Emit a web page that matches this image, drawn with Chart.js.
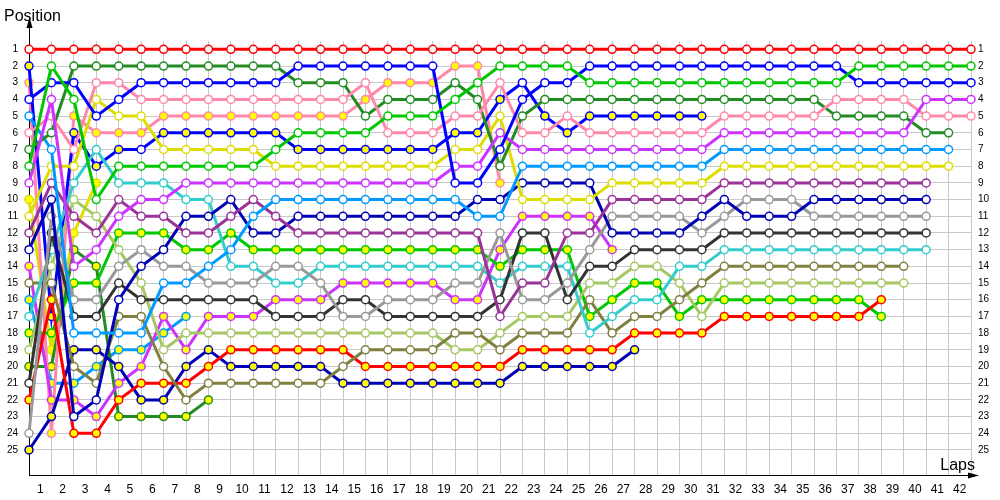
<!DOCTYPE html>
<html>
<head>
<meta charset="utf-8">
<title>Lap chart</title>
<script src="https://cdn.jsdelivr.net/npm/chart.js@4/dist/chart.umd.min.js"></script>
<style>
  html, body { margin: 0; padding: 0; background: #fff; }
</style>
</head>
<body>
<canvas id="lapChart" width="1000" height="500"></canvas>
<script>
// Etiquetas de vueltas (eje X) y posiciones (eje Y)
const lapLabels = ['1','2','3','4','5','6','7','8','9','10','11','12','13','14','15','16','17','18','19','20',
  '21','22','23','24','25','26','27','28','29','30','31','32','33','34','35','36','37','38','39','40','41','42'];
const positionTicks = [1,2,3,4,5,6,7,8,9,10,11,12,13,14,15,16,17,18,19,20,21,22,23,24,25];

// Posicion de cada piloto por vuelta (indice 0 = parrilla de salida)
const redA = [1,1,1,1,1, 1,1,1,1,1, 1,1,1,1,1, 1,1,1,1,1, 1,1,1,1,1, 1,1,1,1,1, 1,1,1,1,1, 1,1,1,1,1, 1,1,1];
const greenA = [8,2,4,10,8, 8,8,8,8,8, 8,7,6,6,6, 6,5,5,5,4, 3,2,2,2,2, 3,3,3,3,3, 3,3,3,3,3, 3,3,2,2,2, 2,2,2];
const blueA = [4,3,3,5,4, 3,3,3,3,3, 3,3,2,2,2, 2,2,2,2,9, 9,7,4,3,3, 2,2,2,2,2, 2,2,2,2,2, 2,2,3,3,3, 3,3,3];
const magentaA = [9,4,14,13,11, 10,10,9,9,9, 9,9,9,9,9, 9,9,9,9,8, 8,6,7,7,7, 7,7,7,7,7, 7,6,6,6,6, 6,6,6,6,6, 4,4,4];
const pinkA = [6,5,7,3,3, 4,4,4,4,4, 4,4,4,4,4, 3,6,6,6,5, 5,3,6,6,5, 6,6,6,6,6, 6,5,5,5,5, 5,4,4,4,4, 5,5,5];
const dkGreenA = [7,6,2,2,2, 2,2,2,2,2, 2,2,3,3,3, 5,4,4,4,3, 4,8,5,4,4, 4,4,4,4,4, 4,4,4,4,4, 4,5,5,5,5, 6,6];
const lightBlueA = [5,7,18,18,18, 18,15,15,14,13, 11,10,10,10,10, 10,10,10,10,10, 11,11,8,8,8, 8,8,8,8,8, 8,7,7,7,7, 7,7,7,7,7, 7,7];
const yellowA = [11,8,8,4,5, 5,7,7,7,7, 7,8,8,8,8, 8,8,8,8,7, 7,5,10,10,10, 10,9,9,9,9, 9,8,8,8,8, 8,8,8,8,8, 8,8];
const purple = [12,9,11,12,10, 11,11,12,12,11, 10,11,12,12,12, 12,12,12,12,12, 12,17,15,15,12, 12,10,10,10,10, 10,9,9,9,9, 9,9,9,9,9, 9];
const dkBlueA = [13,10,23,22,16, 14,13,11,11,10, 12,12,11,11,11, 11,11,11,11,11, 10,10,9,9,9, 9,12,12,12,12, 11,10,11,11,11, 10,10,10,10,10, 10];
const gray = [24,11,16,16,14, 13,14,14,15,15, 15,14,14,15,17, 17,16,16,16,15, 15,12,16,16,15, 13,11,11,11,11, 12,11,10,10,10, 11,11,11,11,11, 11];
const black = [21,12,17,17,15, 16,16,16,16,16, 16,17,17,17,16, 16,17,17,17,17, 17,16,12,12,16, 14,14,13,13,13, 13,12,12,12,12, 12,12,12,12,12, 12];
const cyan = [17,13,9,7,9, 9,9,10,10,14, 14,15,15,14,14, 14,14,14,14,14, 14,15,14,14,14, 18,17,16,16,14, 14,13,13,13,13, 13,13,13,13,13, 13];
const olive = [15,15,20,21,17, 17,20,22,21,21, 21,21,21,21,20, 19,19,19,19,18, 18,19,18,18,18, 16,18,17,17,16, 15,14,14,14,14, 14,14,14,14,14];
const lightGreen = [19,14,10,11,13, 15,19,18,18,18, 18,18,18,18,18, 18,18,18,18,19, 19,18,17,17,17, 15,15,14,14,15, 17,15,15,15,15, 15,15,15,15,15];
const redB = [22,16,24,24,22, 21,21,21,20,19, 19,19,19,19,19, 20,20,20,20,20, 20,20,19,19,19, 19,19,18,18,18, 18,17,17,17,17, 17,17,17,16];
const greenB = [18,18,15,15,12, 12,12,13,13,12, 13,13,13,13,13, 13,13,13,13,13, 13,14,13,13,13, 17,16,15,15,17, 16,16,16,16,16, 16,16,16,17];
const blueB = [2,17,6,8,7, 7,6,6,6,6, 6,6,7,7,7, 7,7,7,7,6, 6,4,3,5,6, 5,5,5,5,5, 5];
const dkBlueB = [25,23,19,19,20, 22,22,20,19,20, 20,20,20,20,21, 21,21,21,21,21, 21,21,20,20,20, 20,20,19];
const magentaB = [14,22,22,23,21, 20,17,19,17,17, 17,16,16,16,15, 15,15,15,15,16, 16,13,11,11,11, 11,13];
const pinkB = [3,24,5,6,6, 6,5,5,5,5, 5,5,5,5,5, 4,3,3,3,2, 2,9];
const dkGreenB = [20,20,13,14,23, 23,23,23,22];
const lightBlueB = [16,21,21,20,19, 19,18,17];
const yellowB = [10,19,12,9];

// Vueltas marcadas con circulo amarillo [desde, hasta]
const blueBMarked = [[0,4],[6,21],[23,30]];
const allMarked = [[0,42]];

const drivers = [
  {data: redA, color: '#ff0000', marked: []},
  {data: greenA, color: '#00c800', marked: []},
  {data: blueA, color: '#0000ff', marked: []},
  {data: magentaA, color: '#cc33ff', marked: []},
  {data: pinkA, color: '#ff88aa', marked: []},
  {data: dkGreenA, color: '#228b22', marked: []},
  {data: lightBlueA, color: '#0099ff', marked: []},
  {data: yellowA, color: '#dddd00', marked: []},
  {data: purple, color: '#993399', marked: []},
  {data: dkBlueA, color: '#0000b4', marked: []},
  {data: gray, color: '#999999', marked: []},
  {data: black, color: '#333333', marked: []},
  {data: cyan, color: '#33cccc', marked: []},
  {data: olive, color: '#808040', marked: []},
  {data: lightGreen, color: '#a6c864', marked: []},
  {data: redB, color: '#ff0000', marked: allMarked},
  {data: greenB, color: '#00c800', marked: allMarked},
  {data: blueB, color: '#0000ff', marked: blueBMarked},
  {data: dkBlueB, color: '#0000b4', marked: allMarked},
  {data: magentaB, color: '#cc33ff', marked: allMarked},
  {data: pinkB, color: '#ff88aa', marked: allMarked},
  {data: dkGreenB, color: '#228b22', marked: allMarked},
  {data: lightBlueB, color: '#0099ff', marked: allMarked},
  {data: yellowB, color: '#dddd00', marked: allMarked}
];

function toPoints(serie) {
  return serie.map((pos, lap) => ({x: lap, y: pos}));
}

function fillColors(serie, marked) {
  return serie.map((pos, lap) =>
    marked.some(([a, b]) => lap >= a && lap <= b) ? '#ffff00' : '#ffffff');
}

const datasets = drivers.map(d => ({
  data: toPoints(d.data),
  borderColor: d.color,
  borderWidth: 3,
  pointRadius: 4,
  pointHoverRadius: 4,
  pointBorderWidth: 1.5,
  pointBorderColor: d.color,
  pointBackgroundColor: fillColors(d.data, d.marked),
  tension: 0,
  fill: false,
  clip: false,
  xAxisID: 'x',
  yAxisID: 'y'
}));

// flechas de ejes y titulos
const decorations = {
  id: 'decorations',
  afterDraw(chart) {
    const {ctx, chartArea} = chart;
    ctx.save();
    ctx.strokeStyle = '#000';
    ctx.fillStyle = '#000';
    ctx.lineWidth = 1;
    const ax = Math.round(chartArea.left) + 0.5;
    ctx.beginPath();
    ctx.moveTo(ax, chartArea.top);
    ctx.lineTo(ax, 26);
    ctx.stroke();
    ctx.beginPath();
    ctx.moveTo(ax, 17);
    ctx.lineTo(ax - 3, 28);
    ctx.lineTo(ax + 3, 28);
    ctx.closePath();
    ctx.fill();
    const ay = Math.round(chartArea.bottom) + 0.5;
    ctx.beginPath();
    ctx.moveTo(chartArea.right, ay);
    ctx.lineTo(970, ay);
    ctx.stroke();
    ctx.beginPath();
    ctx.moveTo(979, ay);
    ctx.lineTo(968, ay - 3);
    ctx.lineTo(968, ay + 3);
    ctx.closePath();
    ctx.fill();
    ctx.font = '16px "Liberation Sans"';
    ctx.textBaseline = 'alphabetic';
    ctx.textAlign = 'left';
    ctx.fillText('Position', 4, 21);
    ctx.textAlign = 'right';
    ctx.fillText('Laps', 975, 470);
    ctx.restore();
  }
};

function setPositionTicks(axis) {
  axis.ticks = positionTicks.map(v => ({value: v}));
}

const canvas = document.querySelector('#lapChart');
const myChart = new Chart(canvas, {
  type: 'line',
  data: {datasets},
  plugins: [decorations],
  options: {
    responsive: false,
    animation: false,
    events: [],
    layout: {padding: {top: 41, left: 0, right: 0, bottom: 0}},
    plugins: {legend: {display: false}, tooltip: {enabled: false}},
    scales: {
      x: {
        type: 'linear',
        min: 0,
        max: 42,
        display: false
      },
      lapAxis: {
        type: 'category',
        position: 'bottom',
        labels: lapLabels,
        offset: true,
        grid: {offset: true, color: '#c8c8c8', drawTicks: false},
        border: {color: '#000', width: 1},
        ticks: {color: '#000', padding: 7, maxRotation: 0, autoSkip: false,
                font: {family: 'Liberation Sans', size: 12}},
        afterFit(scale) { scale.height = 25; }
      },
      y: {
        type: 'linear',
        position: 'left',
        reverse: true,
        min: 0.5,
        max: 26.5,
        afterBuildTicks: setPositionTicks,
        grid: {color: '#c8c8c8', drawTicks: false},
        border: {color: '#000', width: 1},
        ticks: {color: '#000', padding: 11, callback: v => String(v),
                font: {family: 'Liberation Sans', size: 10}},
        afterFit(scale) { scale.width = 29; }
      },
      y2: {
        type: 'linear',
        position: 'right',
        reverse: true,
        min: 0.5,
        max: 26.5,
        afterBuildTicks: setPositionTicks,
        grid: {display: false, drawTicks: false},
        border: {display: false},
        ticks: {color: '#000', padding: 7, callback: v => String(v),
                font: {family: 'Liberation Sans', size: 10}},
        afterFit(scale) { scale.width = 29; }
      }
    }
  }
});
</script>
</body>
</html>
